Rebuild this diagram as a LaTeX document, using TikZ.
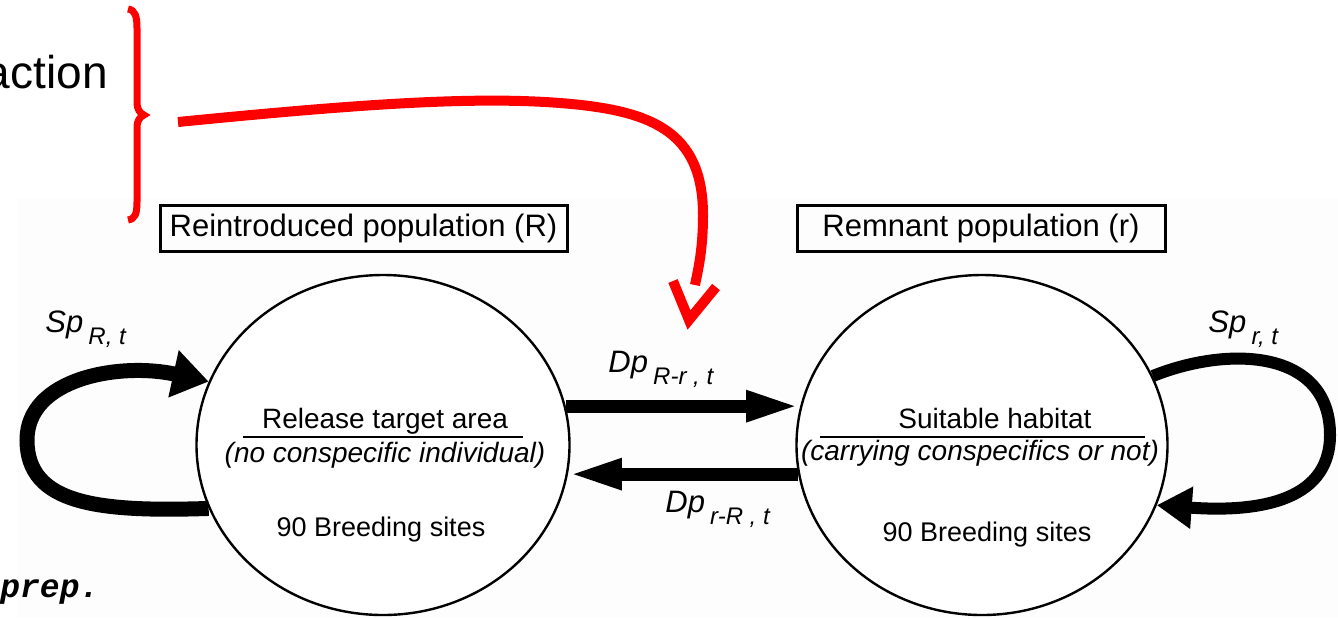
\documentclass[tikz,border=0pt]{standalone}
\usepackage{fontspec}
\setmainfont{Liberation Sans}
\setmonofont{Liberation Mono}
\usetikzlibrary{arrows.meta,shapes.geometric}
\newcommand\fsize[1]{\fontsize{#1}{#1}\selectfont}
\newcommand\ratelbl[2]{\textit{#1}\,\raisebox{-6pt}{\fsize{12}\itshape #2}}

\begin{document}
\begin{tikzpicture}[x=0.5pt,y=-0.5pt,every node/.style={inner sep=0pt},
  site/.style={ellipse,draw,fill=white,line width=1.2pt,minimum width=186.5pt,minimum height=170pt},
  pop/.style={draw,line width=1.5pt,minimum height=23pt,font=\fsize{15.5}},
  flow/.style={line width=6.5pt,-{Triangle[length=27pt,width=14pt]}},
  loopflow/.style={line width=7pt,-{Triangle[length=18pt,width=22pt]}},
  redline/.style={red,line width=5pt},
  rate/.style={font=\fsize{15.5},anchor=base west},
  inner/.style={font=\fsize{14},anchor=base}]
\clip (0,0) rectangle (1338,618);
\fill[black!0.6] (18,198) rectangle (1338,618);
\node[site] (L) at (383,445) {};
\node[site,minimum width=185.5pt] (R) at (982,445) {};
\node[pop,minimum width=203.5pt] (Lbox) at (363.5,228) {Reintroduced population (R)};
\node[pop,minimum width=184pt] (Rbox) at (981,228.5) {Remnant population (r)};
\node[inner] (Lname) at (385,428) {Release target area};
\node[inner,font=\fsize{14}\itshape] (Lnote) at (385,462) {(no conspecific individual)};
\node[inner,font=\fsize{13.5}] (Lsites) at (381,536) {90 Breeding sites};
\node[inner] (Rname) at (995,428) {Suitable habitat};
\node[inner,font=\fsize{14}\itshape] (Rnote) at (980,460) {(carrying conspecifics or not)};
\node[inner,font=\fsize{13.5}] (Rsites) at (987,541) {90 Breeding sites};
\draw[line width=1pt] (243,437) -- (523,437);
\draw[line width=1pt] (820,437) -- (1145,437);
\draw[flow] (L.12) -- (L.12 -| R.168);
\draw[flow] (R.189) -- (R.189 -| L.351);
\draw[loopflow,line width=7.5pt,-{Triangle[length=18pt,width=23pt]}] (L.200) .. controls (100,512) and (27,505) .. (27,440) .. controls (27,378) and (120,362) .. (L.160);
\draw[loopflow,line width=6pt,-{Triangle[length=17.5pt,width=20pt]}] (R.22) .. controls (1230,345) and (1330,350) .. (1330,435) .. controls (1330,505) and (1250,512) .. (R.341);
\node[rate] (spR) at (45,332) {\ratelbl{Sp}{R, t}};
\node[rate] (spr) at (1208,332) {\ratelbl{Sp}{r, t}};
\node[rate] (dpRr) at (608,372) {\ratelbl{Dp}{R-r , t}};
\node[rate] (dprR) at (665,512) {\ratelbl{Dp}{r-R , t}};
\node[font=\fsize{23},anchor=base east] (act) at (108,88) {action};
\node[font=\fsize{16.5}\ttfamily\bfseries\itshape,anchor=base west] (prep) at (0,597) {prep.};
\coordinate (rs) at (178,122); \coordinate (re) at (695,285);
\draw[redline] (rs) .. controls (350,105) and (470,96) .. (560,103) .. controls (650,110) and (703,130) .. (703,215) .. controls (703,250) and (698,270) .. (re);
\draw[redline,line join=miter] (673,281) -- (689,320) -- (716,287);
\draw[red,line width=3.5pt] (128,9) .. controls (135,10) and (137,16) .. (137,28) -- (137,102) .. controls (137,110) and (140,113) .. (144,115) .. controls (140,117) and (137,120) .. (137,128) -- (137,202) .. controls (137,214) and (135,219) .. (128,220);
\end{tikzpicture}
\end{document}
